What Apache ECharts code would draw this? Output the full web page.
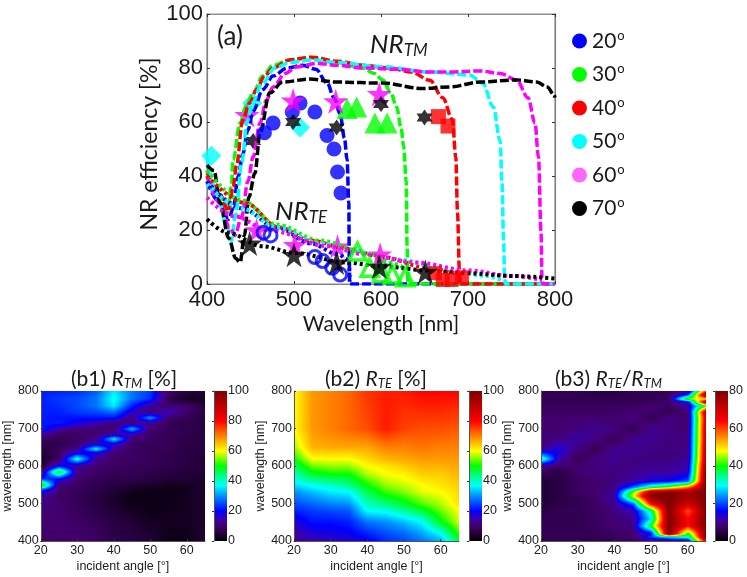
<!DOCTYPE html>
<html><head><meta charset="utf-8">
<style>html,body{margin:0;padding:0;background:#fff}#c{width:747px;height:577px}</style>
<script src="https://cdn.jsdelivr.net/npm/echarts@6/dist/echarts.min.js"></script>
</head><body><div id="c"></div>
<script>
// ---------- panel (a): NR_TM curves [wavelength, efficiency]
const tm20=[[400,38],[415,30],[425,24],[430,28],[436,40],[441,48],[447,57],[453,64],[464,72],[476,77],[492,80],[510,81],[525,79.5],[538,74.5],[546,69],[553,63],[558,54],[561,46],[563,30],[563.5,10],[564,0],[800,0]];
const tm30=[[400,41],[415,33],[424,27],[428,36],[430,46],[438,59.6],[445,66],[453,70.7],[464,77],[476,81],[495,83],[520,83.8],[550,82],[579,80],[592,78],[602,75.6],[611,71],[618,65.6],[623,58],[626,51],[629,38],[630,14],[631,0],[800,0]];
const tm40=[[400,42],[415,33],[425,27],[430,36],[434,44],[441,60.7],[449,67],[457,72],[466,77],[476,80],[495,83],[520,84],[550,82.5],[580,81],[610,80],[635,78.5],[656,75.5],[671,69],[682,61],[686,47],[688,26],[690,6],[691,0],[800,0]];
const tm50=[[400,47],[412,33],[422,22],[428,16],[433,26],[440,45],[446,60],[452,67],[463,74],[478,80],[495,82],[520,83],[550,82],[600,80.5],[656,78.5],[702,77.4],[717,74.3],[729,65.6],[737,53],[739,38],[741,15],[742,3],[743,0],[800,0]];
const tm60=[[400,40],[415,30],[426,21],[432,18],[440,25],[447,38],[453,47],[461,59.6],[468,68],[476,73],[490,78],[503,80.4],[526,81.7],[550,81],[579,80],[620,79.5],[656,78.5],[679,78.5],[714,78.9],[737,78],[756,75.5],[769,69],[777,59.6],[781,47],[784,19],[785,2],[786,0],[800,0]];
const tm70=[[400,44],[408,42],[415,30],[425,17],[433,9.5],[438,8],[443,18],[448,32],[455,41],[461,56],[472,70.7],[487,74.8],[518,75.9],[549,74.8],[602,74.4],[648,72.4],[679,73],[714,74.8],[756,75.6],[779,74.8],[791,73],[799,70],[800,69]];
// NR_TE curves
const te20=[[400,38],[440,28],[480,21],[520,15],[550,11],[563,9],[564,1]];
const te30=[[400,42],[440,31],[480,22],[530,16],[590,11],[610,8],[630,6],[632,0.5]];
const te40=[[400,40],[444,30],[482,21],[520,16],[562,13],[601,10],[654,6],[688,4],[691,0.5]];
const te50=[[400,37],[440,28],[480,21],[530,15],[570,12],[620,9],[670,6],[720,3],[745,0.5]];
const te60=[[400,32],[432,25],[470,20],[540,14],[580,11],[640,8],[700,5],[750,3],[785,1.5]];
const te70=[[400,24],[424,19],[463,14],[501,11.5],[559,8],[601,6.5],[654,5],[697,4],[750,3],[800,2]];
// measured points
const mTm20=[[507,67],[498,63.7],[524,63.7],[476,59.6],[466,56],[538,55],[546,50],[550,41.5],[554,33.7]];
const mTm30=[[561,65],[572,65.6],[593,59.6],[607,59.6]];
const mTm40=[[666,62],[677,58.5]];
const mTm50=[[507,58]];
const mTm50Under=[[405,47.5],[452,67]];
const mTm60=[[499,68],[548,67.7],[598,70.4]];
const mTm60Under=[[446,62.6]];
const mTm70=[[499,60],[549,58],[600,66.7],[650,61.7]];
const mTm70Under=[[453,53]];
const mTe20=[[473,18],[465,19],[524,10],[533,8.5],[544,6],[553,3.5]];
const mTe30=[[573,12],[587,6],[601,4],[613,3.5],[628,2.5]];
const mTe40=[[662,4],[671,1.5],[681,1.5],[693,2.5]];
const mTe60=[[457,20],[501,14.5],[550,14],[599,11]];
const mTe70=[[449,15],[500,10.8],[549,8],[598,6.4],[651,4.5]];
const angleNames=['20°','30°','40°','50°','60°','70°'];
const lineColors=['#0000ff','#00ff00','#ff0000','#00ffff','#ff00ff','#000000'];
const legendColors=['#0000ff','#00ff00','#ff0000','#00ffff','#ff66ff','#000000'];
const mainXTicks=[400,800,100], mainYTicks=[0,100,20];

// ---------- heat maps (b1..b3): columns by angle, rows by wavelength
const angles=[20,25,30,35,40,45,50,55,60,65];
const b1Wave=[400,450,500,520,535,550,565,585,600,620,635,645,660,672,685,700,715,727,745,760,780,800];
const b1Vals=[
[9,10,10,9,7,6,5,2,2,5],
[10,10,9,8,6,5,3,3,3,4],
[11,10,8,6,4,2,2,2,3,4],
[14,9,8,6,4,2,2,2,3,4],
[24,10,8,7,5,3,2,2,3,4],
[58,11,9,7,6,5,4,3,3,4],
[24,20,10,8,7,7,6,5,5,4],
[9,52,12,9,8,8,7,6,5,5],
[3,20,13,10,9,8,8,7,6,5],
[3,9,40,13,9,9,8,7,6,5],
[5,8,18,18,10,9,8,7,6,6],
[6,8,13,38,13,9,8,8,6,6],
[7,7,9,16,18,9,8,8,6,6],
[9,8,9,12,37,11,9,8,6,6],
[14,9,9,10,13,15,9,8,7,6],
[23,15,11,10,10,33,10,8,7,6],
[21,22,19,15,11,11,13,8,7,6],
[22,21,21,21,21,11,31,9,8,6],
[22,22,24,25,28,17,10,16,9,6],
[22,23,25,28,36,22,13,10,10,6],
[22,24,25,28,38,28,23,7,3,3],
[22,22,23,26,36,28,24,10,6,5]];
const b2Wave=[400,420,450,480,500,530,550,580,600,620,650,700,800];
const b2Vals=[
[13,15,16,17,19,23,25,28,32,47],
[14,17,18,19,22,25,27,31,37,52],
[17,21,21,22,28,30,33,37,49,58],
[22,24,25,26,37,38,42,47,54,60],
[25,27,29,30,40,44,48,53,57,62],
[30,33,36,37,46,52,55,59,60,63],
[35,38,40,43,50,56,58,60,62,64],
[41,48,50,50,57,60,61,64,64,66],
[45,54,56,56,60,62,64,66,66,67],
[50,60,60,60,63,66,67,68,68,68],
[56,66,67,67,67,70,70,71,70,70],
[60,68,70,72,74,78,75,74,74,73],
[60,68,70,72,76,78,78,80,80,80]];
const b3Wave=[400,410,420,440,460,480,500,520,530,545,560,585,600,620,645,672,700,727,745,760,770,780,790,800];
const b3Vals=[
[6,6,6,6,6,7,9,10,12,70],
[6,6,6,6,7,8,20,28,32,80],
[6,6,6,6,7,8,14,80,38,80],
[6,6,6,7,8,9,40,80,64,80],
[6,6,6,7,8,10,28,80,64,80],
[5,6,6,7,9,12,34,80,58,80],
[4,5,6,7,10,20,65,80,70,80],
[4,5,6,8,11,48,80,80,75,80],
[4,5,7,8,10,42,75,80,75,80],
[4,5,7,8,9,20,34,42,55,80],
[4,5,7,8,9,11,14,15,20,80],
[7,5,8,9,9,10,11,11,13,80],
[10,8,8,9,9,9,10,10,12,78],
[35,12,6,9,10,9,9,9,10,75],
[9,15,9,6,10,10,9,9,9,74],
[8,9,11,9,6,10,10,9,9,72],
[8,8,9,10,9,6,10,9,8,72],
[8,8,8,8,8,9,6,9,8,70],
[7,7,7,7,7,8,8,6,8,75],
[7,7,7,7,7,7,8,7,12,40],
[6,6,6,6,6,6,7,8,14,78],
[6,6,6,6,6,6,6,7,45,50],
[6,6,6,5,5,6,6,6,20,80],
[6,6,6,5,5,6,6,7,8,60]];
const b1Max=100,b2Max=100,b3Max=80;
// colour ramp: [fraction of range, colour]
const rampStops=[[0,'#000000'],[0.05,'#220038'],[0.10,'#42006e'],[0.15,'#3800b0'],[0.20,'#0000ff'],[0.30,'#0090ff'],[0.37,'#00ffff'],[0.50,'#00ff00'],[0.60,'#ffff00'],[0.70,'#ff8000'],[0.80,'#ff0000'],[1,'#7f0000']];

const rgb=rampStops.map(s=>[s[0],parseInt(s[1].slice(1,3),16),parseInt(s[1].slice(3,5),16),parseInt(s[1].slice(5,7),16)]);
function ramp(f){f=Math.max(0,Math.min(1,f));
  for(let i=1;i<rgb.length;i++){if(f<=rgb[i][0]){const a=rgb[i-1],b=rgb[i],t=(f-a[0])/(b[0]-a[0]);
    return [a[1]+(b[1]-a[1])*t,a[2]+(b[2]-a[2])*t,a[3]+(b[3]-a[3])*t];}}
  return rgb[rgb.length-1].slice(1);}
function heatSeries(gridIdx,wave,vals,max){
  const data=[];wave.forEach((w,r)=>angles.forEach((a,c)=>data.push([a,w,vals[r][c]])));
  const nc=angles.length;
  return {type:'custom',name:'heat'+gridIdx,coordinateSystem:'cartesian2d',xAxisIndex:gridIdx+1,yAxisIndex:gridIdx+1,silent:true,z:1,
    data,encode:{x:0,y:1},
    renderItem(p,api){
      const c=p.dataIndex%nc,r=Math.floor(p.dataIndex/nc);
      if(c===nc-1||r===wave.length-1)return null;
      const A=api.coord([angles[c],wave[r]]),B=api.coord([angles[c+1],wave[r+1]]);
      const x0=Math.round(A[0]),x1=Math.round(B[0]),y0=Math.round(B[1]),y1=Math.round(A[1]);
      const w=x1-x0,h=y1-y0;if(w<=0||h<=0)return null;
      const cv=document.createElement('canvas');cv.width=w;cv.height=h;
      const ctx=cv.getContext('2d'),im=ctx.createImageData(w,h);
      const q00=vals[r][c],q10=vals[r][c+1],q01=vals[r+1][c],q11=vals[r+1][c+1];
      for(let y=0;y<h;y++){const ty=1-(y+0.5)/h;
        for(let x=0;x<w;x++){const tx=(x+0.5)/w;
          const v=(q00*(1-tx)+q10*tx)*(1-ty)+(q01*(1-tx)+q11*tx)*ty;
          const col=ramp(v/max),k=(y*w+x)*4;
          im.data[k]=col[0];im.data[k+1]=col[1];im.data[k+2]=col[2];im.data[k+3]=255;}}
      ctx.putImageData(im,0,0);
      return {type:'image',style:{image:cv,x:x0,y:y0,width:w,height:h}};
    }};
}
function barSeries(gridIdx,max){
  return {type:'custom',name:'colorbar'+gridIdx,coordinateSystem:'cartesian2d',xAxisIndex:gridIdx+1,yAxisIndex:gridIdx+1,silent:true,z:1,
    data:[[0,0,max]],encode:{y:[1,2]},
    renderItem(p,api){
      const A=api.coord([0,0]),B=api.coord([1,max]);
      return {type:'rect',shape:{x:A[0],y:B[1],width:B[0]-A[0],height:A[1]-B[1]},
        style:{fill:new echarts.graphic.LinearGradient(0,1,0,0,rampStops.map(s=>({offset:s[0],color:s[1]})))}};
    }};
}
const SANS='"Liberation Sans",Arial,sans-serif', HUM='Lato,"Open Sans",sans-serif';
const grids=[{left:207,top:14,width:348,height:270,show:true,borderColor:'#909090',borderWidth:1.2,backgroundColor:'#fff'}];
const heatX=[40,294,541],barX=[214,469,715];
heatX.forEach(x=>grids.push({left:x,top:391,width:165,height:150}));
barX.forEach(x=>grids.push({left:x,top:391,width:13,height:150}));
const tick={show:true,inside:true,length:3,lineStyle:{color:'#333',width:1}};
const xAxes=[
 {type:'value',gridIndex:0,min:mainXTicks[0],max:mainXTicks[1],interval:mainXTicks[2],position:'bottom',splitLine:{show:false},
  axisLine:{onZero:false,lineStyle:{color:'#808080',width:1.2}},axisTick:tick,
  axisLabel:{fontFamily:SANS,fontSize:22,color:'#1a1a1a',margin:5},
  name:'Wavelength [nm]',nameLocation:'middle',nameGap:30,nameTextStyle:{fontFamily:HUM,fontSize:21,color:'#1a1a1a'}},
 {type:'value',gridIndex:0,min:mainXTicks[0],max:mainXTicks[1],interval:mainXTicks[2],position:'top',splitLine:{show:false},
  axisLine:{onZero:false,lineStyle:{color:'#909090',width:1.2}},axisTick:tick,axisLabel:{show:false}}];
const yAxes=[
 {type:'value',gridIndex:0,min:mainYTicks[0],max:mainYTicks[1],interval:mainYTicks[2],position:'left',splitLine:{show:false},
  axisLine:{onZero:false,lineStyle:{color:'#808080',width:1.2}},axisTick:tick,
  axisLabel:{fontFamily:SANS,fontSize:22,color:'#1a1a1a',margin:4},
  name:'NR efficiency [%]',nameLocation:'middle',nameGap:46,nameTextStyle:{fontFamily:HUM,fontSize:23,color:'#1a1a1a',padding:[0,0,0,10]}},
 {type:'value',gridIndex:0,min:mainYTicks[0],max:mainYTicks[1],interval:mainYTicks[2],position:'right',splitLine:{show:false},
  axisLine:{onZero:false,lineStyle:{color:'#808080',width:1.2}},axisTick:tick,axisLabel:{show:false}}];
for(let i=1;i<=3;i++){
  xAxes.push({type:'value',gridIndex:i,min:20,max:65,interval:10,position:'bottom',splitLine:{show:false},z:5,
    axisLine:{lineStyle:{color:'#555',width:1}},axisTick:{show:true,inside:true,length:2,lineStyle:{color:'#333'}},
    axisLabel:{fontFamily:SANS,fontSize:12.5,color:'#222',margin:3,showMaxLabel:false},
    name:'incident angle [°]',nameLocation:'middle',nameGap:19,nameTextStyle:{fontFamily:SANS,fontSize:12.5,color:'#222'}});
  yAxes.push({type:'value',gridIndex:i,min:400,max:800,interval:100,position:'left',splitLine:{show:false},z:5,
    axisLine:{lineStyle:{color:'#555',width:1}},axisTick:{show:true,inside:true,length:2,lineStyle:{color:'#333'}},
    axisLabel:{fontFamily:SANS,fontSize:12.5,color:'#222',margin:2},
    name:'wavelength [nm]',nameLocation:'middle',nameGap:22,nameTextStyle:{fontFamily:SANS,fontSize:12.5,color:'#222'}});
}
[b1Max,b2Max,b3Max].forEach((m,i)=>{
  const gi=4+i;
  xAxes.push({type:'value',gridIndex:gi,min:0,max:1,position:'bottom',show:false,splitLine:{show:false}});
  yAxes.push({type:'value',gridIndex:gi,min:0,max:m,interval:20,position:'right',splitLine:{show:false},z:5,
    axisLine:{lineStyle:{color:'#555',width:1}},axisTick:{show:true,inside:true,length:2,lineStyle:{color:'#333'}},
    axisLabel:{fontFamily:SANS,fontSize:12.5,color:'#222',margin:1}});
});
const STAR='path://M50,0 L61,35 L98,35 L68,57 L79,91 L50,70 L21,91 L32,57 L2,35 L39,35 Z';
const HEX='path://M50,0 L65,25 L93,25 L79,50 L93,75 L65,75 L50,100 L35,75 L7,75 L21,50 L7,25 L35,25 Z';
const series=[];
[tm20,tm30,tm40,tm50,tm60,tm70].forEach((d,i)=>series.push({type:'line',name:angleNames[i],xAxisIndex:0,yAxisIndex:0,data:d,
  showSymbol:false,smooth:0.35,smoothMonotone:'x',z:2,itemStyle:{color:lineColors[i]},lineStyle:{color:lineColors[i],width:3.5,type:[9,3]}}));
[te20,te30,te40,te50,te60,te70].forEach((d,i)=>series.push({type:'line',name:'TE '+angleNames[i],xAxisIndex:0,yAxisIndex:0,data:d,
  showSymbol:false,smooth:0.35,smoothMonotone:'x',z:2,itemStyle:{color:lineColors[i]},lineStyle:{color:lineColors[i],width:4,type:[3,3]}}));
function mk(name,data,symbol,size,color,open,bw,z){series.push({type:'scatter',name,xAxisIndex:0,yAxisIndex:0,data,symbol,symbolSize:size,z:z||3,
  itemStyle:open?{color:'rgba(0,0,0,0)',borderColor:color,borderWidth:bw}:{color}});}
mk('m20',mTm20,'circle',15,'#0000ff');
mk('m30',mTm30,'triangle',21,'#00ff00');
mk('m40',mTm40,'rect',15,'#ff0000');
mk('m50',mTm50,'diamond',20,'#00ffff');
mk('m50u',mTm50Under,'diamond',20,'#00ffff',false,0,1);
mk('m60',mTm60,STAR,25,'#ff00ff');
mk('m60u',mTm60Under,STAR,25,'#ff00ff',false,0,1);
mk('m70',mTm70,HEX,16,'#000000');
mk('m70u',mTm70Under,HEX,16,'#000000',false,0,1);
mk('e20',mTe20,'circle',13,'#0000ff',true,3);
mk('e30',mTe30,'triangle',17,'#00ff00',true,3.5);
mk('e40',mTe40,'rect',14,'#ff0000');
mk('e60',mTe60,STAR,24,'#ff00ff',false,0,1);
mk('e70',mTe70,STAR,25,'#000000');
series.push(heatSeries(1,b1Wave,b1Vals,b1Max),heatSeries(2,b2Wave,b2Vals,b2Max),heatSeries(3,b3Wave,b3Vals,b3Max));
series.push(barSeries(4,b1Max),barSeries(5,b2Max),barSeries(6,b3Max));
const W={fontWeight:'normal',color:'#1a1a1a',fontFamily:HUM};
const richT={i:{...W,fontStyle:'italic',fontSize:21},sb:{...W,fontStyle:'italic',fontSize:13,padding:[9,0,0,0]},n:{...W,fontSize:21}};
const richNR={i:{...W,fontStyle:'italic',fontSize:26},sb:{...W,fontStyle:'italic',fontSize:17,padding:[11,0,0,0]}};
function T(text,left,top,rich){return {text,left,top,padding:0,textStyle:{rich}};}
const option={animation:false,backgroundColor:'#fff',
 grid:grids,xAxis:xAxes,yAxis:yAxes,series,
 title:[
  T('{n|(a)}',217,24,{n:{...W,fontSize:26}}),
  T('{i|NR}{sb|TM}',370,31,richNR),
  T('{i|NR}{sb|TE}',275,198,richNR),
  T('{n|(b1) }{i|R}{sb|TM}{n| [%]}',71,368,richT),
  T('{n|(b2) }{i|R}{sb|TE}{n| [%]}',325,368,richT),
  T('{n|(b3) }{i|R}{sb|TE}{n|/}{i|R}{sb|TM}',555,368,richT)],
 legend:{orient:'vertical',left:567,top:24,itemWidth:15,itemHeight:15,itemGap:11,selectedMode:false,
  data:angleNames.map((n,i)=>({name:n,icon:'circle',itemStyle:{color:legendColors[i],borderWidth:0}})),
  formatter:n=>'{a|'+n.replace('°','')+'}{s|o}',
  textStyle:{rich:{a:{...W,fontSize:21,lineHeight:28},s:{...W,fontSize:13,padding:[0,0,11,1]}}}}
};
echarts.init(document.getElementById('c'),null,{renderer:'canvas'}).setOption(option);
</script></body></html>
